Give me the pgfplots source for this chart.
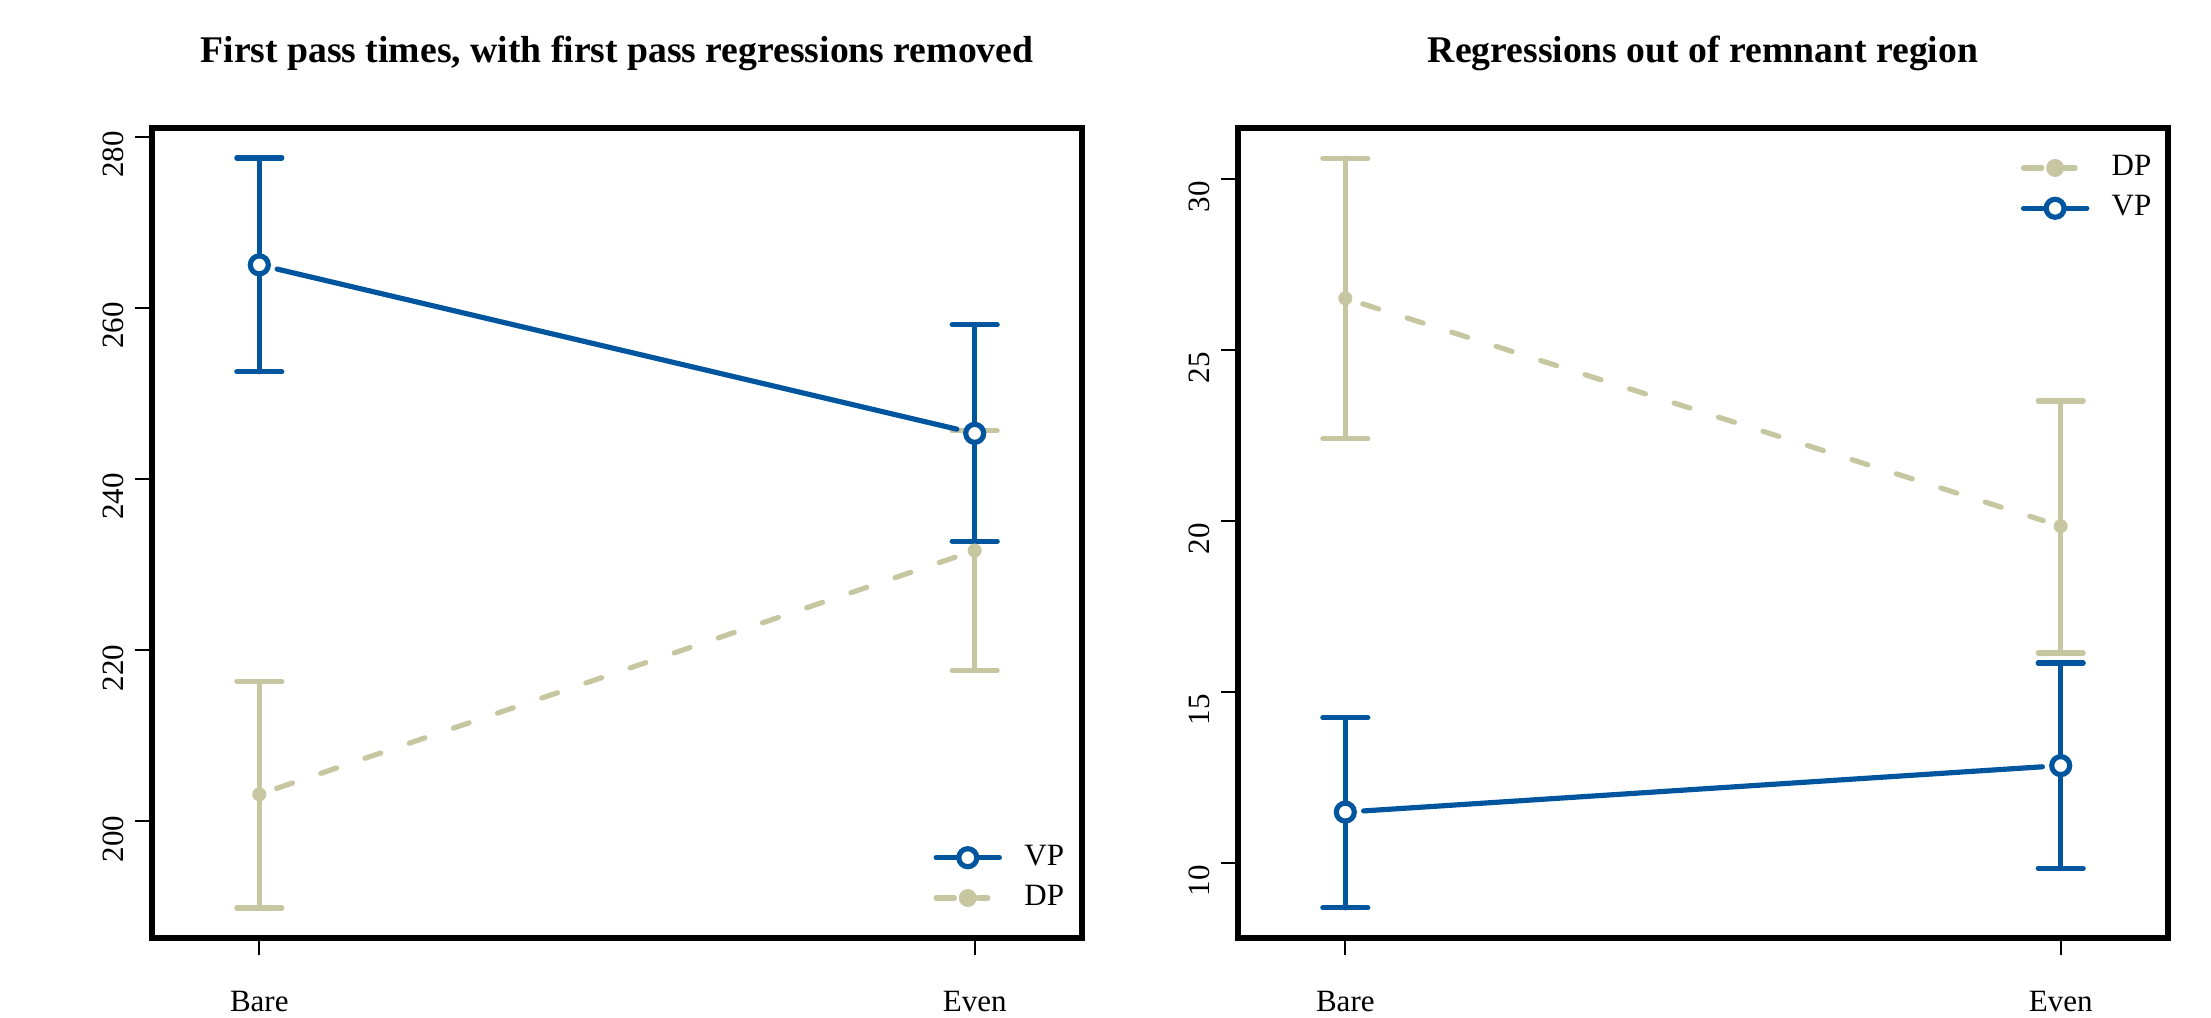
\documentclass[border=0pt]{standalone}
\usepackage{fontspec}
\setmainfont{Liberation Serif}
\usepackage{pgfplots}
\pgfplotsset{compat=1.18}
\definecolor{vpblue}{HTML}{00559F}
\definecolor{dptan}{HTML}{C6C6A0}
\pgfplotsset{
  panel/.style={
    anchor=south west,
    scale only axis, width=279pt, height=243pt,
    xmin=0.85, xmax=2.15, xtick={1,2}, xticklabels={Bare,Even},
    axis line style={line width=1.6pt},
    tick align=outside, major tick length=5pt,
    tick style={black, line width=0.6pt},
    xtick pos=bottom, ytick pos=left,
    ticklabel style={font=\fontsize{9.3}{11}\selectfont},
    xticklabel style={yshift=-7.4pt},
    yticklabel style={rotate=90, anchor=south, xshift=-5.4pt},
    /pgf/number format/assume math mode=true,
    title style={font=\bfseries\fontsize{11.3}{13}\selectfont, at={(0.5,1)}, anchor=center, yshift=16.5pt},
    legend style={draw=none, fill=none, font=\fontsize{9.3}{11}\selectfont, inner sep=0pt, row sep=0.5pt, column sep=4.7pt},
    legend cell align=left,
    legend image code/.code={\draw[mark repeat=2,mark phase=2] plot coordinates {(0pt,0pt) (9.5pt,0pt) (19pt,0pt)};},
  },
  vpline/.style={vpblue, line width=1.55pt, line cap=round, shorten <=5.5pt, shorten >=5.5pt, forget plot},
  dpline/.style={dptan, line width=1.55pt, line cap=round, dash pattern=on 5pt off 9pt, shorten <=5.5pt, shorten >=5.5pt, forget plot},
  vppts/.style={vpblue, only marks, mark=*, mark size=2.7pt, mark options={fill=white, line width=1.55pt}, forget plot,
    error bars/.cd, y dir=both, y explicit, error bar style={line width=1.55pt, line cap=round}, error mark=|, error mark options={mark size=6.75pt, line width=1.55pt, line cap=round}},
  dppts/.style={dptan, only marks, mark=*, mark size=1.9pt, forget plot,
    error bars/.cd, y dir=both, y explicit, error bar style={line width=1.55pt, line cap=round}, error mark=|, error mark options={mark size=6.75pt, line width=1.55pt, line cap=round}},
  vpleg/.style={vpblue, line width=1.55pt, line cap=round, mark=*, mark size=2.7pt, mark options={fill=white}},
  dpleg/.style={dptan, line width=1.55pt, line cap=round, dash pattern=on 5.5pt off 7pt on 3pt off 10pt, mark=*, mark size=1.9pt, mark options={solid}},
}
\begin{document}
\begin{tikzpicture}
\path[use as bounding box] (0,0) rectangle (663.3pt,305.1pt);
\begin{axis}[panel, at={(45.6pt,23.7pt)},
  ymin=186.3, ymax=281.0, ytick={200,220,240,260,280},
  title={First pass times, with first pass regressions removed},
  legend style={at={(1,0)}, anchor=south east, xshift=-3.2pt, yshift=6pt}]
\addplot[dpline] coordinates {(1,203.1) (2,231.6)};
\addplot[dppts] coordinates {(1,203.1) += (0,13.2) -= (0,13.3) (2,231.6) += (0,14.0) -= (0,14.0)};
\addplot[vpline] coordinates {(1,265.0) (2,245.3)};
\addplot[vppts] coordinates {(1,265.0) += (0,12.5) -= (0,12.5) (2,245.3) += (0,12.7) -= (0,12.6)};
\addlegendimage{vpleg}
\addlegendentry{VP}
\addlegendimage{dpleg}
\addlegendentry{DP}
\end{axis}
\begin{axis}[panel, at={(371.4pt,23.7pt)},
  ymin=7.8, ymax=31.48, ytick={10,15,20,25,30},
  title={Regressions out of remnant region},
  legend style={at={(1,1)}, anchor=north east, xshift=-2.8pt, yshift=-6pt}]
\addplot[dpline] coordinates {(1,26.5) (2,19.84)};
\addplot[dppts] coordinates {(1,26.5) += (0,4.1) -= (0,4.1) (2,19.84) += (0,3.66) -= (0,3.71)};
\addplot[vpline] coordinates {(1,11.48) (2,12.84)};
\addplot[vppts] coordinates {(1,11.48) += (0,2.76) -= (0,2.8) (2,12.84) += (0,3.0) -= (0,3.0)};
\addlegendimage{dpleg}
\addlegendentry{DP}
\addlegendimage{vpleg}
\addlegendentry{VP}
\end{axis}
\end{tikzpicture}
\end{document}
